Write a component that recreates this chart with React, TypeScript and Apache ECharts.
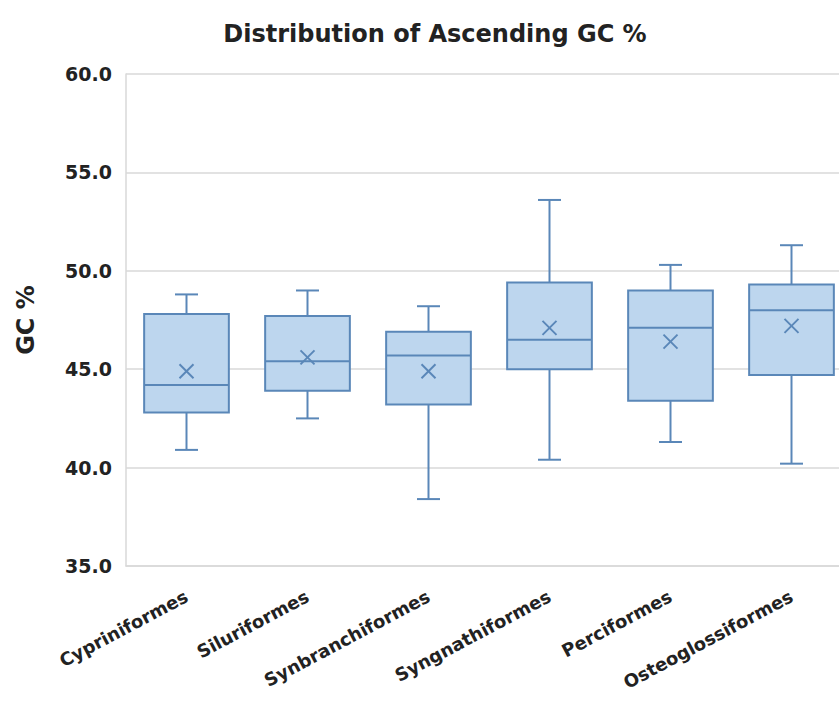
import React, { useEffect, useRef } from "react";
import * as echarts from "echarts";

const categories = [
  "Cypriniformes",
  "Siluriformes",
  "Synbranchiformes",
  "Syngnathiformes",
  "Perciformes",
  "Osteoglossiformes",
];
const lowWhisker = [40.9, 42.5, 38.4, 40.4, 41.3, 40.2];
const q1 = [42.8, 43.9, 43.2, 45.0, 43.4, 44.7];
const median = [44.2, 45.4, 45.7, 46.5, 47.1, 48.0];
const q3 = [47.8, 47.7, 46.9, 49.4, 49.0, 49.3];
const highWhisker = [48.8, 49.0, 48.2, 53.6, 50.3, 51.3];
const mean = [44.9, 45.6, 44.9, 47.1, 46.4, 47.2];
const yTicks = [35, 40, 45, 50, 55, 60];

const FILL = "#bdd6ee";
const STROKE = "#5a87b8";
const TEXT = "#222222";
const FONT = "DejaVu Sans";

export default function App() {
  const ref = useRef<HTMLDivElement>(null);
  useEffect(() => {
    if (!ref.current) return;
    const chart = echarts.init(ref.current, undefined, { renderer: "svg" });
    const data = categories.map((_, i) => [
      i,
      lowWhisker[i],
      q1[i],
      median[i],
      q3[i],
      highWhisker[i],
      mean[i],
    ]);
    chart.setOption({
      animation: false,
      backgroundColor: "#ffffff",
      title: {
        text: "Distribution of Ascending GC %",
        left: 430,
        textAlign: "center",
        top: 17,
        textStyle: { fontFamily: FONT, fontWeight: "bold", fontSize: 24, color: TEXT },
      },
      grid: { left: 126, top: 74, right: 8, bottom: 136 },
      xAxis: {
        type: "category",
        data: categories,
        boundaryGap: true,
        axisLine: { show: true, lineStyle: { color: "#d9d9d9", width: 1.5 } },
        axisTick: { show: false },
        axisLabel: {
          rotate: 28,
          interval: 0,
          margin: 29,
          fontFamily: FONT,
          fontWeight: "bold",
          fontSize: 18,
          color: TEXT,
        },
      },
      yAxis: {
        type: "value",
        min: yTicks[0],
        max: yTicks[yTicks.length - 1],
        interval: 5,
        name: "GC %",
        nameLocation: "middle",
        nameRotate: 90,
        nameGap: 88,
        nameTextStyle: { fontFamily: FONT, fontWeight: "bold", fontSize: 24, color: TEXT },
        axisLine: { show: true, lineStyle: { color: "#d9d9d9", width: 1.5 } },
        axisTick: { show: false },
        splitLine: { show: true, lineStyle: { color: "#d9d9d9", width: 1.5 } },
        axisLabel: {
          margin: 14,
          formatter: (v: number) => v.toFixed(1),
          fontFamily: FONT,
          fontWeight: "bold",
          fontSize: 19,
          color: TEXT,
        },
      },
      series: [
        {
          type: "custom",
          data,
          encode: { x: 0, y: [1, 2, 3, 4, 5, 6] },
          clip: false,
          renderItem: (params: any, api: any) => {
            const idx = api.value(0);
            const lo = api.coord([idx, api.value(1)]);
            const b1 = api.coord([idx, api.value(2)]);
            const md = api.coord([idx, api.value(3)]);
            const b3 = api.coord([idx, api.value(4)]);
            const hi = api.coord([idx, api.value(5)]);
            const mn = api.coord([idx, api.value(6)]);
            const band = api.size([1, 0])[0];
            const bw = band * 0.7;
            const cw = band * 0.19;
            const x = lo[0];
            const style = { stroke: STROKE, lineWidth: 2, fill: null };
            const xs = 7;
            return {
              type: "group",
              children: [
                { type: "line", shape: { x1: x, y1: hi[1], x2: x, y2: b3[1] }, style },
                { type: "line", shape: { x1: x, y1: b1[1], x2: x, y2: lo[1] }, style },
                { type: "line", shape: { x1: x - cw / 2, y1: hi[1], x2: x + cw / 2, y2: hi[1] }, style },
                { type: "line", shape: { x1: x - cw / 2, y1: lo[1], x2: x + cw / 2, y2: lo[1] }, style },
                {
                  type: "rect",
                  shape: { x: x - bw / 2, y: b3[1], width: bw, height: b1[1] - b3[1] },
                  style: { fill: FILL, stroke: STROKE, lineWidth: 2 },
                },
                { type: "line", shape: { x1: x - bw / 2, y1: md[1], x2: x + bw / 2, y2: md[1] }, style },
                { type: "line", shape: { x1: x - xs, y1: mn[1] - xs, x2: x + xs, y2: mn[1] + xs }, style },
                { type: "line", shape: { x1: x - xs, y1: mn[1] + xs, x2: x + xs, y2: mn[1] - xs }, style },
              ],
            };
          },
        },
      ],
    });
    return () => chart.dispose();
  }, []);
  return (
    <div
      style={{
        position: "fixed",
        left: 0,
        top: 0,
        width: 839,
        height: 702,
        overflow: "hidden",
        background: "#fff",
      }}
    >
      <div ref={ref} style={{ width: 860, height: 702 }} />
    </div>
  );
}
